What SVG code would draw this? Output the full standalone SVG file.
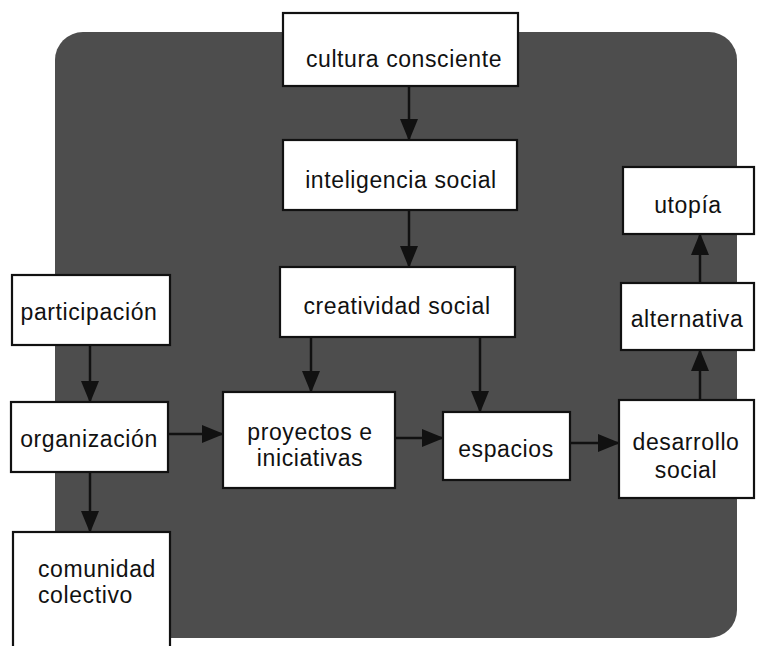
<svg xmlns="http://www.w3.org/2000/svg" width="760" height="646" viewBox="0 0 760 646">
<style>
.box{fill:#fff;stroke:#111;stroke-width:2.2}
.t{font-family:"Liberation Sans",Arial,sans-serif;font-size:23px;letter-spacing:0.6px;fill:#111;text-anchor:middle}
.tl{text-anchor:start}
.c{stroke:#111;stroke-width:2.5;fill:none;marker-end:url(#ah)}
</style>
<defs>
<marker id="ah" markerUnits="userSpaceOnUse" markerWidth="22" markerHeight="18" refX="21" refY="9" orient="auto">
<path d="M0,0 L22,9 L0,18 Z" fill="#111"/>
</marker>
</defs>
<rect id="background" x="55" y="32" width="682" height="606" rx="28" fill="#4d4d4d"/>
<g id="connectors">
<line class="c" x1="409" y1="87" x2="409" y2="140"/>
<line class="c" x1="409" y1="211" x2="409" y2="267"/>
<line class="c" x1="311" y1="338" x2="311" y2="392"/>
<line class="c" x1="480" y1="338" x2="480" y2="412"/>
<line class="c" x1="90" y1="346" x2="90" y2="402"/>
<line class="c" x1="90" y1="473" x2="90" y2="532"/>
<line class="c" x1="169" y1="434" x2="223" y2="434"/>
<line class="c" x1="396" y1="438" x2="443" y2="438"/>
<line class="c" x1="571" y1="443" x2="619" y2="443"/>
<line class="c" x1="700" y1="400" x2="700" y2="350"/>
<line class="c" x1="700" y1="283" x2="700" y2="234"/>
</g>
<g id="cultura"><rect class="box" x="283" y="13" width="235" height="73"/><text class="t" x="404" y="67">cultura consciente</text></g>
<g id="inteligencia"><rect class="box" x="283" y="140" width="234" height="70"/><text class="t" x="401" y="188">inteligencia social</text></g>
<g id="creatividad"><rect class="box" x="280" y="267" width="235" height="70"/><text class="t" x="397" y="314">creatividad social</text></g>
<g id="participacion"><rect class="box" x="12" y="275" width="158" height="70"/><text class="t" x="89" y="320">participación</text></g>
<g id="organizacion"><rect class="box" x="11" y="402" width="157" height="70"/><text class="t" x="89" y="447">organización</text></g>
<g id="comunidad"><rect class="box" x="13" y="532" width="157" height="120"/><text class="t tl" x="38" y="577">comunidad</text><text class="t tl" x="38" y="603">colectivo</text></g>
<g id="proyectos"><rect class="box" x="223" y="392" width="172" height="96"/><text class="t" x="310" y="440">proyectos e</text><text class="t" x="310" y="466">iniciativas</text></g>
<g id="espacios"><rect class="box" x="443" y="412" width="127" height="68"/><text class="t" x="506" y="457">espacios</text></g>
<g id="desarrollo"><rect class="box" x="619" y="400" width="135" height="98"/><text class="t" x="686" y="450">desarrollo</text><text class="t" x="686" y="478">social</text></g>
<g id="alternativa"><rect class="box" x="621" y="283" width="133" height="67"/><text class="t" x="687" y="327">alternativa</text></g>
<g id="utopia"><rect class="box" x="623" y="167" width="131" height="67"/><text class="t" x="688" y="213">utopía</text></g>
</svg>
